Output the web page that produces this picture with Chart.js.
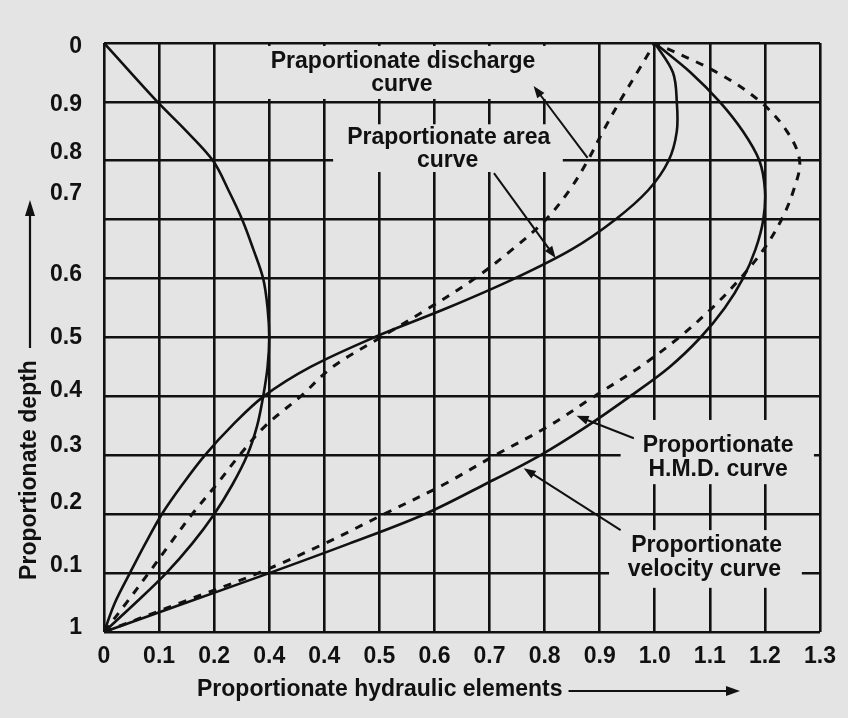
<!DOCTYPE html>
<html>
<head>
<meta charset="utf-8">
<script src="https://cdn.jsdelivr.net/npm/chart.js@4.4.1/dist/chart.umd.min.js"></script>
<style>
  html, body { margin: 0; background: #e4e4e4; }
  canvas { display: block; }
</style>
</head>
<body>
<canvas id="hydraulicChart" width="848" height="718"></canvas>
<script>
// Tick values and labels (labels copied as printed, including the doubled "0.4")
const xTickValues = [0, 0.1, 0.2, 0.3, 0.4, 0.5, 0.6, 0.7, 0.8, 0.9, 1.0, 1.1, 1.2, 1.3];
const xTickLabels = ['0', '0.1', '0.2', '0.4', '0.4', '0.5', '0.6', '0.7', '0.8', '0.9', '1.0', '1.1', '1.2', '1.3'];
const yGridValues = [0, 0.1, 0.2, 0.3, 0.4, 0.5, 0.6, 0.7, 0.8, 0.9, 1.0];
const yTickValues = [0.007, 0.112, 0.219, 0.316, 0.409, 0.499, 0.606, 0.745, 0.813, 0.895, 0.993];
const yTickLabels = ['1', '0.1', '0.2', '0.3', '0.4', '0.5', '0.6', '0.7', '0.8', '0.9', '0'];

// Proportionate depth at which each curve was read
const depthValues = [0, 0.05, 0.1, 0.15, 0.2, 0.25, 0.3, 0.35, 0.4, 0.45, 0.5,
                     0.55, 0.6, 0.65, 0.7, 0.75, 0.8, 0.85, 0.9, 0.95, 1.0];

// Proportionate hydraulic element at those depths
const areaCurve      = [0, 0.02, 0.047, 0.075, 0.105, 0.142, 0.183, 0.232, 0.29, 0.375, 0.49,
                        0.623, 0.745, 0.85, 0.928, 0.988, 1.025, 1.04, 1.04, 1.033, 1.0];
const dischargeCurve = [0, 0.041, 0.081, 0.12, 0.16, 0.204, 0.246, 0.293, 0.357, 0.415, 0.502,
                        0.59, 0.673, 0.742, 0.802, 0.845, 0.878, 0.906, 0.936, 0.968, 1.0];
const leftLoopCurve  = [0, 0.058, 0.113, 0.16, 0.2, 0.233, 0.26, 0.278, 0.289, 0.297, 0.3,
                        0.297, 0.289, 0.271, 0.251, 0.226, 0.198, 0.15, 0.097, 0.048, 0];
const velocityCurve  = [0, 0.15, 0.3, 0.445, 0.582, 0.69, 0.792, 0.878, 0.955, 1.027, 1.083,
                        1.127, 1.16, 1.183, 1.197, 1.2, 1.19, 1.16, 1.118, 1.065, 1.0];
const hmdCurve       = [0, 0.14, 0.28, 0.4, 0.508, 0.616, 0.71, 0.808, 0.89, 0.973, 1.044,
                        1.104, 1.155, 1.198, 1.23, 1.252, 1.263, 1.24, 1.192, 1.113, 1.0];

const INK = '#111111';
const PAPER = '#e4e4e4';
const FONT = '"Liberation Sans", Arial, sans-serif';

function toPoints(values) {
    return depthValues.map((d, i) => ({ x: values[i], y: d }));
}

function curve(label, values, dashed) {
    return {
        label: label,
        data: toPoints(values),
        showLine: true,
        borderColor: INK,
        borderWidth: dashed ? 3 : 2.6,
        borderDash: dashed ? [8, 8] : [],
        pointRadius: 0,
        tension: 0.35,
        fill: false
    };
}

// Curve labels and their arrows, given in chart units
const notes = [
    { text: 'Praportionate discharge', x: 0.543, y: 0.969 },
    { text: 'curve', x: 0.541, y: 0.929 },
    { text: 'Praportionate area', x: 0.626, y: 0.84 },
    { text: 'curve', x: 0.624, y: 0.801 },
    { text: 'Proportionate', x: 1.115, y: 0.317 },
    { text: 'H.M.D. curve', x: 1.115, y: 0.275 },
    { text: 'Proportionate', x: 1.094, y: 0.146 },
    { text: 'velocity curve', x: 1.09, y: 0.105 }
];
const pointers = [
    { from: [0.878, 0.805], to: [0.78, 0.927] },
    { from: [0.708, 0.779], to: [0.82, 0.635] },
    { from: [0.962, 0.329], to: [0.858, 0.367] },
    { from: [0.938, 0.173], to: [0.762, 0.278] }
];
// blank patches of paper behind the labels (grid is broken there)
const gaps = [
    { x1: 0.287, x2: 0.882, y1: 0.905, y2: 0.995 },
    { x1: 0.416, x2: 0.833, y1: 0.781, y2: 0.862 },
    { x1: 0.938, x2: 1.289, y1: 0.251, y2: 0.36 },
    { x1: 0.917, x2: 1.267, y1: 0.075, y2: 0.173 }
];

function drawArrow(ctx, x1, y1, x2, y2, len, half) {
    const a = Math.atan2(y2 - y1, x2 - x1);
    ctx.beginPath();
    ctx.moveTo(x1, y1);
    ctx.lineTo(x2 - Math.cos(a) * len * 0.6, y2 - Math.sin(a) * len * 0.6);
    ctx.stroke();
    ctx.beginPath();
    ctx.moveTo(x2, y2);
    ctx.lineTo(x2 - Math.cos(a) * len + Math.sin(a) * half, y2 - Math.sin(a) * len - Math.cos(a) * half);
    ctx.lineTo(x2 - Math.cos(a) * len - Math.sin(a) * half, y2 - Math.sin(a) * len + Math.cos(a) * half);
    ctx.closePath();
    ctx.fill();
}

const sketchDecor = {
    id: 'sketchDecor',
    beforeDraw(chart) {
        const ctx = chart.ctx;
        ctx.save();
        ctx.fillStyle = PAPER;
        ctx.fillRect(0, 0, chart.width, chart.height);
        ctx.restore();
    },
    beforeDatasetsDraw(chart) {
        const { ctx, scales: { x, y } } = chart;
        ctx.save();
        ctx.fillStyle = PAPER;
        gaps.forEach(g => {
            const left = x.getPixelForValue(g.x1), right = x.getPixelForValue(g.x2);
            const top = y.getPixelForValue(g.y2), bottom = y.getPixelForValue(g.y1);
            ctx.fillRect(left, top, right - left, bottom - top);
        });
        ctx.restore();
    },
    afterDatasetsDraw(chart) {
        const { ctx, chartArea, scales: { x, y } } = chart;
        ctx.save();
        ctx.fillStyle = INK;
        ctx.strokeStyle = INK;
        ctx.font = 'bold 23px ' + FONT;
        ctx.textAlign = 'center';
        ctx.textBaseline = 'middle';
        notes.forEach(n => ctx.fillText(n.text, x.getPixelForValue(n.x), y.getPixelForValue(n.y)));

        ctx.lineWidth = 2;
        pointers.forEach(p => drawArrow(ctx,
            x.getPixelForValue(p.from[0]), y.getPixelForValue(p.from[1]),
            x.getPixelForValue(p.to[0]), y.getPixelForValue(p.to[1]), 12, 4.5));

        // x axis title with arrow
        const tx = chartArea.left + 93, ty = chartArea.bottom + 58;
        ctx.textAlign = 'left';
        ctx.fillText('Proportionate hydraulic elements', tx, ty);
        const tw = ctx.measureText('Proportionate hydraulic elements').width;
        ctx.lineWidth = 2.2;
        drawArrow(ctx, tx + tw + 6, ty + 1, chartArea.left + 636, ty + 1, 14, 5);

        // y axis title with arrow
        ctx.save();
        ctx.translate(30, chartArea.top + 427);
        ctx.rotate(-Math.PI / 2);
        ctx.textAlign = 'center';
        ctx.fillText('Proportionate depth', 0, 0);
        ctx.restore();
        drawArrow(ctx, 30, chartArea.top + 305, 30, chartArea.top + 157, 16, 5);
        ctx.restore();
    }
};

const tickFont = { family: FONT, size: 23, weight: 'bold' };

new Chart(document.getElementById('hydraulicChart').getContext('2d'), {
    type: 'scatter',
    data: {
        datasets: [
            curve('Praportionate area curve', areaCurve, false),
            curve('Praportionate discharge curve', dischargeCurve, true),
            curve('Left loop curve', leftLoopCurve, false),
            curve('Proportionate velocity curve', velocityCurve, false),
            curve('Proportionate H.M.D. curve', hmdCurve, true)
        ]
    },
    options: {
        responsive: false,
        animation: false,
        layout: { padding: { top: 43, right: 28, left: 0, bottom: 0 } },
        plugins: {
            legend: { display: false },
            tooltip: { enabled: false }
        },
        scales: {
            x: {
                type: 'linear',
                min: 0,
                max: 1.3,
                afterBuildTicks: scale => { scale.ticks = xTickValues.map(v => ({ value: v })); },
                afterFit: scale => { scale.height = 86; },
                ticks: {
                    autoSkip: false,
                    maxRotation: 0,
                    padding: 11,
                    color: INK,
                    font: tickFont,
                    callback: (value, index) => xTickLabels[index]
                },
                grid: { color: INK, lineWidth: 2.6, drawTicks: false },
                border: { display: false }
            },
            y: {
                type: 'linear',
                position: 'right',
                min: 0,
                max: 1,
                afterBuildTicks: scale => { scale.ticks = yGridValues.map(v => ({ value: v })); },
                afterFit: scale => { scale.width = 0; },
                ticks: { display: false },
                grid: { color: INK, lineWidth: 2.6, drawTicks: false },
                border: { display: false }
            },
            yLabels: {
                type: 'linear',
                position: 'left',
                min: 0,
                max: 1,
                afterBuildTicks: scale => { scale.ticks = yTickValues.map(v => ({ value: v })); },
                afterFit: scale => { scale.width = 104; },
                ticks: {
                    autoSkip: false,
                    padding: 14,
                    color: INK,
                    font: tickFont,
                    callback: (value, index) => yTickLabels[index]
                },
                grid: { display: false },
                border: { display: false }
            }
        }
    },
    plugins: [sketchDecor]
});
</script>
</body>
</html>
